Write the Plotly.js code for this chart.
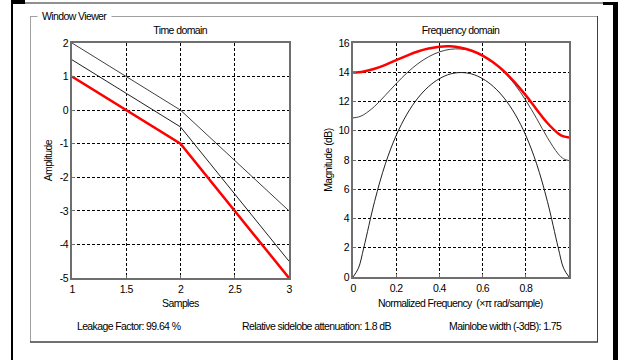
<!DOCTYPE html>
<html>
<head>
<meta charset="utf-8">
<script src="https://cdn.plot.ly/plotly-3.0.1.min.js"></script>
<style>
html,body{margin:0;padding:0;background:#fff;}
#chart{width:618px;height:360px;}
#chart text{letter-spacing:-0.6px;}
</style>
</head>
<body>
<div id="chart"></div>
<script>
// ---- data ----
const samples = [1, 2, 3];
const seqRed = [1, -1, -5];
const seqGray = [1.5, -0.5, -4.5];
const seqBlack = [2, 0, -3];

const freq = [0, 0.025, 0.05, 0.1, 0.15, 0.2, 0.25, 0.3, 0.35, 0.4, 0.45, 0.5,
              0.55, 0.6, 0.65, 0.7, 0.75, 0.8, 0.85, 0.9, 0.95, 0.975, 1];
const magRed = [13.98, 14.00, 14.05, 14.24, 14.51, 14.83, 15.14, 15.42, 15.62, 15.75, 15.77, 15.68,
                15.47, 15.14, 14.66, 14.05, 13.29, 12.42, 11.46, 10.53, 9.82, 9.61, 9.54];
const magGray = [10.88, 10.94, 11.10, 11.67, 12.43, 13.22, 13.96, 14.58, 15.06, 15.39, 15.57, 15.59,
                 15.46, 15.15, 14.67, 14.01, 13.15, 12.08, 10.84, 9.53, 8.42, 8.08, 7.96];
const magBlack = [0, 0.60, 2.01, 5.17, 7.74, 9.68, 11.14, 12.23, 13.02, 13.56, 13.88, 13.98,
                  13.88, 13.56, 13.02, 12.23, 11.14, 9.68, 7.74, 5.17, 2.01, 0.60, 0];

const timeTicks = [1, 1.5, 2, 2.5, 3];
const timeTickText = ['1', '1.5', '2', '2.5', '3'];
const ampTicks = [-5, -4, -3, -2, -1, 0, 1, 2];
const ampTickText = ['-5', '-4', '-3', '-2', '-1', '0', '1', '2'];
const freqTicks = [0, 0.2, 0.4, 0.6, 0.8];
const freqTickText = ['0', '0.2', '0.4', '0.6', '0.8'];
const magTicks = [0, 2, 4, 6, 8, 10, 12, 14, 16];
const magTickText = ['0', '2', '4', '6', '8', '10', '12', '14', '16'];

const panelTitle = 'Window Viewer';
const timeTitle = 'Time domain';
const freqTitle = 'Frequency domain';
const timeXLabel = 'Samples';
const timeYLabel = 'Amplitude';
const freqXLabel = 'Normalized Frequency  (\u00d7\u03c0 rad/sample)';
const freqYLabel = 'Magnitude (dB)';
const infoTexts = ['Leakage Factor: 99.64 %', 'Relative sidelobe attenuation: 1.8 dB', 'Mainlobe width (-3dB): 1.75'];

// ---- layout helpers (pixel -> paper) ----
const W = 618, H = 360;
const px = v => v / W;
const py = v => 1 - v / H;
const FONT = 'Liberation Sans, Arial, sans-serif';
const FS = 10.5;

const traces = [
  {x: samples, y: seqBlack, xaxis: 'x', yaxis: 'y', mode: 'lines', line: {color: '#404040', width: 1}},
  {x: samples, y: seqGray, xaxis: 'x', yaxis: 'y', mode: 'lines', line: {color: '#202020', width: 1}},
  {x: samples, y: seqRed, xaxis: 'x', yaxis: 'y', mode: 'lines', line: {color: '#ff0000', width: 2.5}},
  {x: freq, y: magBlack, xaxis: 'x2', yaxis: 'y2', mode: 'lines', line: {color: '#202020', width: 1, shape: 'spline'}},
  {x: freq, y: magGray, xaxis: 'x2', yaxis: 'y2', mode: 'lines', line: {color: '#404040', width: 1, shape: 'spline'}},
  {x: freq, y: magRed, xaxis: 'x2', yaxis: 'y2', mode: 'lines', line: {color: '#ff0000', width: 2.5, shape: 'spline'}}
];

const axBase = {
  showgrid: true, gridcolor: '#000', gridwidth: 1, griddash: '3px,2px',
  zeroline: false, showline: true, mirror: true, linecolor: '#6e6e6e', linewidth: 2,
  ticks: 'inside', ticklen: 3, tickcolor: '#6e6e6e', tickmode: 'array',
  tickfont: {family: FONT, size: FS, color: '#000'}, fixedrange: true
};

const annText = (text, x, y, opts) => Object.assign({
  text: text, x: px(x), y: py(y), xref: 'paper', yref: 'paper', showarrow: false,
  font: {family: FONT, size: FS, color: '#000'}, xanchor: 'center', yanchor: 'middle'
}, opts || {});

const layout = {
  width: W, height: H, margin: {l: 0, r: 0, t: 0, b: 0, pad: 0},
  paper_bgcolor: '#fff', plot_bgcolor: '#fff', showlegend: false,
  xaxis: Object.assign({}, axBase, {domain: [px(72), px(289)], range: [1, 3], tickvals: timeTicks, ticktext: timeTickText, anchor: 'y'}),
  yaxis: Object.assign({}, axBase, {domain: [py(278), py(43)], range: [-5, 2], tickvals: ampTicks, ticktext: ampTickText, anchor: 'x'}),
  xaxis2: Object.assign({}, axBase, {domain: [px(353), px(569)], range: [0, 1], tickvals: freqTicks, ticktext: freqTickText, anchor: 'y2'}),
  yaxis2: Object.assign({}, axBase, {domain: [py(277), py(43)], range: [0, 16], tickvals: magTicks, ticktext: magTickText, anchor: 'x2'}),
  shapes: [
    // outer window frame
    {type: 'rect', xref: 'paper', yref: 'paper', x0: px(11), x1: px(13), y0: py(0), y1: py(360), fillcolor: '#000', line: {width: 0}},
    {type: 'rect', xref: 'paper', yref: 'paper', x0: px(11), x1: px(25), y0: py(0), y1: py(4), fillcolor: '#000', line: {width: 0}},
    {type: 'line', xref: 'paper', yref: 'paper', x0: px(25), x1: px(603), y0: py(3), y1: py(3), line: {color: '#222', width: 1}},
    {type: 'rect', xref: 'paper', yref: 'paper', x0: px(603), x1: px(617), y0: py(2), y1: py(5), fillcolor: '#000', line: {width: 0}},
    {type: 'rect', xref: 'paper', yref: 'paper', x0: px(613), x1: px(618), y0: py(2), y1: py(360), fillcolor: '#000', line: {width: 0}},
    // panel border (etched)
    {type: 'line', xref: 'paper', yref: 'paper', x0: px(30), x1: px(598), y0: py(16.5), y1: py(16.5), line: {color: '#a0a0a0', width: 1}},
    {type: 'line', xref: 'paper', yref: 'paper', x0: px(30.5), x1: px(30.5), y0: py(16), y1: py(342), line: {color: '#a0a0a0', width: 1}},
    {type: 'line', xref: 'paper', yref: 'paper', x0: px(597.5), x1: px(597.5), y0: py(16), y1: py(342), line: {color: '#404040', width: 1}},
    {type: 'line', xref: 'paper', yref: 'paper', x0: px(30), x1: px(598), y0: py(342), y1: py(342), line: {color: '#404040', width: 1.5}}
  ],
  annotations: [
    annText(panelTitle, 74, 16, {bgcolor: '#fff', borderpad: 0}),
    annText(timeTitle, 180, 30),
    annText(freqTitle, 460, 30),
    annText(timeXLabel, 180, 303),
    annText(freqXLabel, 460, 303),
    annText(timeYLabel, 48, 160, {textangle: -90}),
    annText(freqYLabel, 328, 160, {textangle: -90}),
    annText(infoTexts[0], 128.5, 326),
    annText(infoTexts[1], 316, 326),
    annText(infoTexts[2], 505, 326)
  ]
};

Plotly.newPlot('chart', traces, layout, {staticPlot: true, displayModeBar: false});
</script>
</body>
</html>
